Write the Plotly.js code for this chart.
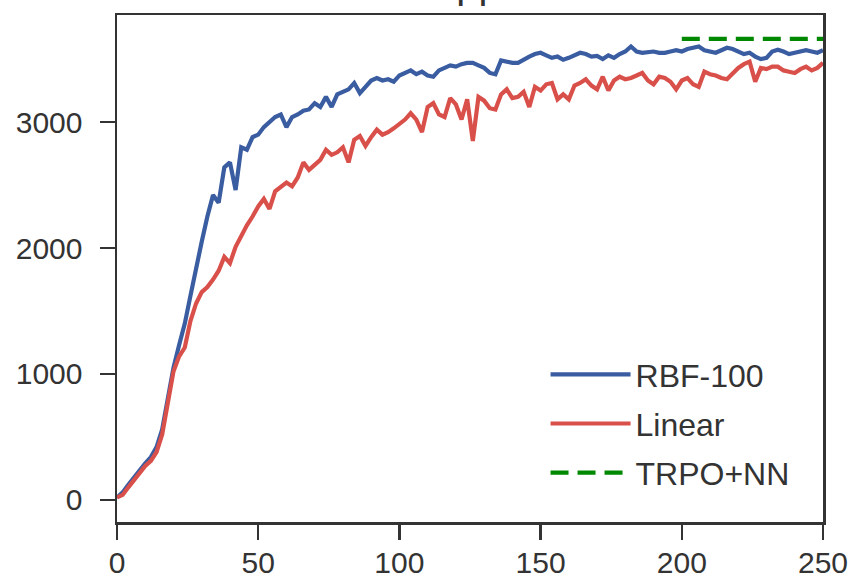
<!DOCTYPE html>
<html>
<head>
<meta charset="utf-8">
<script src="https://cdn.plot.ly/plotly-3.0.1.min.js"></script>
<style>html,body{margin:0;padding:0;background:#fff;}#chart{width:849px;height:580px;}</style>
</head>
<body>
<div id="chart"></div>
<script>
const iterations = [0,2,4,6,8,10,12,14,16,18,20,22,24,26,28,30,32,34,36,38,40,42,44,46,48,50,52,54,56,58,60,62,64,66,68,70,72,74,76,78,80,82,84,86,88,90,92,94,96,98,100,102,104,106,108,110,112,114,116,118,120,122,124,126,128,130,132,134,136,138,140,142,144,146,148,150,152,154,156,158,160,162,164,166,168,170,172,174,176,178,180,182,184,186,188,190,192,194,196,198,200,202,204,206,208,210,212,214,216,218,220,222,224,226,228,230,232,234,236,238,240,242,244,246,248,250];

const rbf100 = [20,60,120,180,240,290,340,420,560,800,1050,1230,1400,1620,1850,2050,2250,2420,2360,2640,2680,2460,2800,2780,2880,2900,2960,3000,3040,3060,2960,3040,3060,3090,3100,3150,3120,3200,3120,3220,3240,3260,3310,3230,3280,3330,3350,3330,3340,3320,3370,3390,3410,3380,3400,3370,3360,3410,3430,3450,3440,3460,3470,3470,3450,3430,3390,3380,3490,3480,3470,3470,3500,3520,3540,3550,3530,3510,3520,3495,3510,3530,3550,3540,3520,3525,3500,3530,3510,3540,3560,3600,3560,3550,3555,3560,3550,3550,3560,3570,3560,3580,3590,3600,3570,3560,3550,3570,3590,3580,3560,3540,3550,3520,3500,3510,3560,3575,3560,3540,3550,3560,3570,3560,3550,3570];

const linear = [20,40,100,160,220,270,310,380,520,780,1020,1140,1210,1420,1560,1650,1690,1750,1820,1930,1880,2010,2100,2180,2250,2330,2390,2310,2450,2480,2520,2490,2560,2680,2620,2660,2700,2780,2740,2760,2800,2680,2860,2890,2810,2880,2940,2900,2920,2950,2980,3020,3070,3020,2920,3120,3150,3060,3040,3190,3140,3020,3180,2850,3200,3170,3110,3100,3220,3260,3190,3200,3240,3120,3280,3250,3300,3310,3180,3220,3180,3290,3310,3340,3290,3260,3360,3250,3330,3360,3340,3350,3370,3390,3330,3300,3360,3350,3320,3260,3330,3350,3300,3280,3400,3380,3370,3350,3340,3390,3430,3460,3480,3320,3430,3420,3440,3440,3410,3400,3390,3420,3440,3410,3430,3470];

const trpoX = [200, 250];
const trpoY = [3660, 3660];

const seriesNames = ['RBF-100', 'Linear', 'TRPO+NN'];
const xTicks = [0, 50, 100, 150, 200, 250];
const yTicks = [0, 1000, 2000, 3000];
const chartTitle = 'Hopper';

const FONT = 'Liberation Sans, Arial, sans-serif';
const TXT = '#333333';

const traces = [
  {x: iterations, y: rbf100, name: seriesNames[0], legendgroup: 'a', type: 'scatter', mode: 'lines',
   line: {color: '#3A5CA0', width: 4.2}},
  {x: iterations, y: linear, name: seriesNames[1], legendgroup: 'b', type: 'scatter', mode: 'lines',
   line: {color: '#D9504A', width: 4.2}},
  {x: trpoX, y: trpoY, name: seriesNames[2], legendgroup: 'c', type: 'scatter', mode: 'lines',
   line: {color: '#008800', width: 4.2, dash: '18px,9px'}}
];

const axisCommon = {
  showline: true, mirror: true, linecolor: TXT, linewidth: 2.5,
  ticks: 'outside', ticklen: 15, tickwidth: 2.5, tickcolor: TXT,
  showgrid: false, zeroline: false,
  tickfont: {family: FONT, size: 30, color: TXT}
};

const layout = {
  width: 849, height: 580,
  margin: {l: 117, r: 26, t: 15, b: 58},
  paper_bgcolor: '#ffffff', plot_bgcolor: '#ffffff',
  showlegend: true,
  legend: {
    x: 0.607, y: 0.345, xanchor: 'left', yanchor: 'top',
    bgcolor: 'rgba(0,0,0,0)', borderwidth: 0,
    font: {family: FONT, size: 32, color: TXT},
    itemwidth: 80, tracegroupgap: 4.5
  },
  xaxis: Object.assign({}, axisCommon, {range: [0, 250], tickvals: xTicks, ticklabelstandoff: -3}),
  yaxis: Object.assign({}, axisCommon, {range: [-175, 3850], tickvals: yTicks, ticklabelstandoff: 11}),
  annotations: [{
    text: chartTitle, xref: 'paper', yref: 'paper', x: 0.5, y: 1.013,
    xanchor: 'center', yanchor: 'bottom', showarrow: false,
    font: {family: FONT, size: 40, color: TXT}
  }]
};

Plotly.newPlot('chart', traces, layout, {displayModeBar: false, staticPlot: true});
</script>
</body>
</html>
